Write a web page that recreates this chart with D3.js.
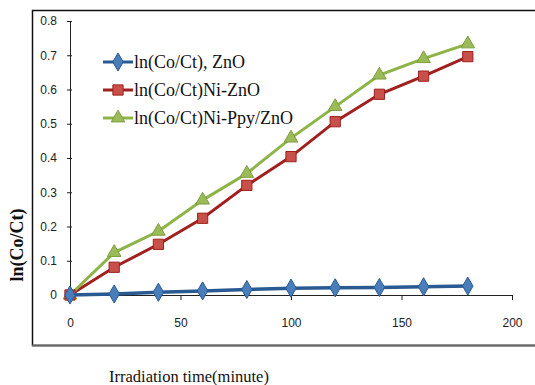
<!DOCTYPE html>
<html>
<head>
<meta charset="utf-8">
<script src="https://cdn.jsdelivr.net/npm/d3@7"></script>
<style>
  body { margin: 0; background: #fff; }
  svg { display: block; font-family: "Open Sans", "DejaVu Sans", sans-serif; }
  .tick text { font-size: 12px; fill: #222; }
  .serif { font-family: "Liberation Serif", "DejaVu Serif", serif; }
</style>
</head>
<body>
<div id="chart"></div>
<script>
// chart data
const times = [0, 20, 40, 60, 80, 100, 120, 140, 160, 180];
const znO = [0, 0.003, 0.008, 0.012, 0.016, 0.02, 0.021, 0.022, 0.024, 0.026];
const niZnO = [0, 0.081, 0.148, 0.224, 0.32, 0.404, 0.506, 0.586, 0.639, 0.696];
const niPpyZnO = [0, 0.124, 0.186, 0.277, 0.355, 0.458, 0.55, 0.642, 0.69, 0.733];
const xTicks = [0, 50, 100, 150, 200];
const yTicks = [0, 0.1, 0.2, 0.3, 0.4, 0.5, 0.6, 0.7, 0.8];
const seriesNames = ['ln(Co/Ct), ZnO', 'ln(Co/Ct)Ni-ZnO', 'ln(Co/Ct)Ni-Ppy/ZnO'];

const W = 535, H = 385;
const margin = {top: 21, right: 21, bottom: 90, left: 70};
const width = W - margin.left - margin.right;
const height = H - margin.top - margin.bottom;

const series = [
  {name: seriesNames[0], values: znO, line: '#2a5a92', fill: '#4a7ebb', stroke: '#2a5a92', shape: d3.symbolDiamond, size: 95},
  {name: seriesNames[1], values: niZnO, line: '#a0201e', fill: '#c8504a', stroke: '#a0201e', shape: d3.symbolSquare, size: 105},
  {name: seriesNames[2], values: niPpyZnO, line: '#8db446', fill: '#9bbb59', stroke: '#7d9e3e', shape: d3.symbolTriangle, size: 80}
];

const svg = d3.select('#chart').append('svg')
  .attr('width', W)
  .attr('height', H);

// outer frame
svg.append('path')
  .attr('d', 'M536,10.5 H32.5 V345.5 H536')
  .attr('fill', 'none')
  .attr('stroke', '#111')
  .attr('stroke-width', 1.5);
svg.append('line')
  .attr('x1', 32).attr('x2', 536).attr('y1', 345.5).attr('y2', 345.5)
  .attr('stroke', '#666').attr('stroke-width', 2);

const g = svg.append('g')
  .attr('transform', 'translate(' + margin.left + ',' + margin.top + ')');

const x = d3.scaleLinear().domain([0, 200]).range([0, 442]);
const y = d3.scaleLinear().domain([0, 0.8]).range([height, 0]);

const yAxis = d3.axisLeft(y)
  .tickValues(yTicks)
  .tickFormat(d => d === 0 ? '0' : d3.format('.1f')(d))
  .tickSizeInner(4).tickSizeOuter(0).tickPadding(9);
const yG = g.append('g').call(yAxis);
yG.selectAll('.tick line').attr('x2', 2).attr('x1', -3);

const xAxis = d3.axisBottom(x)
  .tickValues(xTicks)
  .tickSizeInner(5).tickSizeOuter(0).tickPadding(18);
g.append('g')
  .attr('transform', 'translate(0,' + height + ')')
  .call(xAxis);

g.selectAll('.domain').attr('stroke', '#222');
g.selectAll('.tick line').attr('stroke', '#222');

const line = d3.line()
  .x((d, i) => x(times[i]))
  .y(d => y(d));

// lines first, then markers on top
series.forEach((s, k) => {
  g.append('path')
    .datum(s.values)
    .attr('fill', 'none')
    .attr('stroke', s.line)
    .attr('stroke-width', k === 0 ? 3.5 : 3)
    .attr('d', line);
});
series.slice().reverse().forEach(s => {
  g.selectAll(null)
    .data(s.values)
    .enter().append('path')
    .attr('transform', (d, i) => 'translate(' + x(times[i]) + ',' + y(d) + ')')
    .attr('d', d3.symbol().type(s.shape).size(s.size))
    .attr('fill', s.fill)
    .attr('stroke', s.stroke)
    .attr('stroke-width', 1);
});

// legend
const legend = svg.append('g').attr('transform', 'translate(103,62)');
series.forEach((s, i) => {
  const row = legend.append('g').attr('transform', 'translate(0,' + (i * 28) + ')');
  row.append('line')
    .attr('x1', 0).attr('x2', 30)
    .attr('stroke', s.line).attr('stroke-width', 3);
  row.append('path')
    .attr('transform', 'translate(15,0)')
    .attr('d', d3.symbol().type(s.shape).size(s.size))
    .attr('fill', s.fill)
    .attr('stroke', s.stroke);
  row.append('text')
    .attr('class', 'serif')
    .attr('x', 31)
    .attr('dy', '0.33em')
    .attr('font-size', 18)
    .attr('fill', '#111')
    .text(s.name);
});

// axis titles
svg.append('text')
  .attr('class', 'serif')
  .attr('transform', 'translate(23,245) rotate(-90)')
  .attr('text-anchor', 'middle')
  .attr('font-size', 18)
  .attr('font-weight', 'bold')
  .attr('fill', '#111')
  .text('ln(Co/Ct)');

svg.append('text')
  .attr('class', 'serif')
  .attr('x', 109)
  .attr('y', 382)
  .attr('font-size', 16.5)
  .attr('fill', '#111')
  .text('Irradiation time(minute)');
</script>
</body>
</html>
